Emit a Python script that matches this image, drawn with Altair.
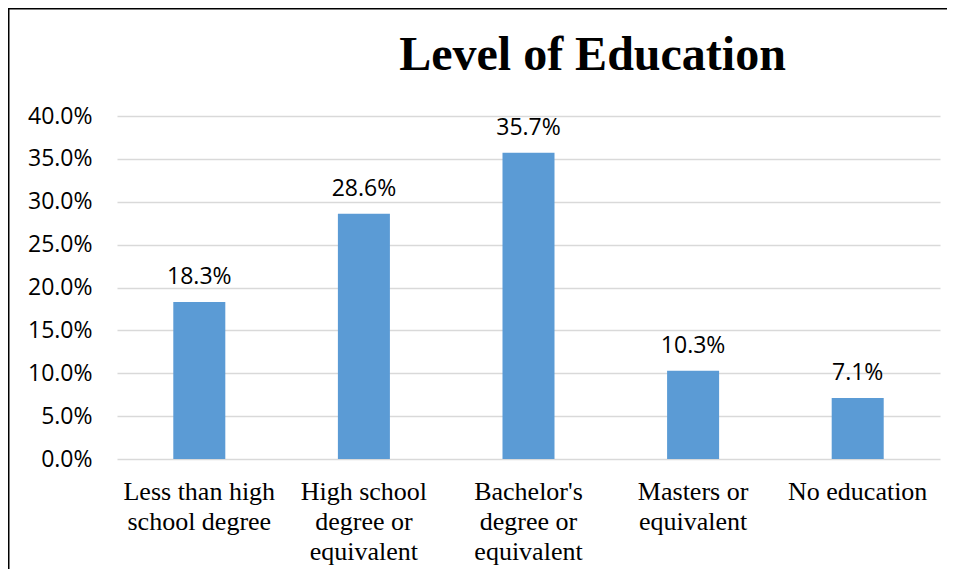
import altair as alt
import pandas as pd

title_text = "Level of Education"
categories = [
    "Less than high|school degree",
    "High school|degree or|equivalent",
    "Bachelor's|degree or|equivalent",
    "Masters or|equivalent",
    "No education",
]
shares = [0.183, 0.286, 0.357, 0.103, 0.071]
y_ticks = [0.0, 0.05, 0.10, 0.15, 0.20, 0.25, 0.30, 0.35, 0.40]

df = pd.DataFrame({"category": categories, "share": shares})

W, H = 823, 343
PAD = {"left": 109, "top": 108, "right": 7, "bottom": 110}

x_enc = alt.X(
    "category:N",
    sort=categories,
    title=None,
    scale=alt.Scale(paddingInner=0.684, paddingOuter=0.342),
    axis=alt.Axis(
        labelAngle=0,
        labelFont="Liberation Serif",
        labelFontSize=26,
        labelLineHeight=30,
        labelColor="black",
        labelPadding=19,
        labelExpr="split(datum.label, '|')",
        ticks=False,
        domain=False,
        labelBaseline="top",
    ),
)
y_enc = alt.Y(
    "share:Q",
    title=None,
    scale=alt.Scale(domain=[0, 0.4], nice=False),
    axis=alt.Axis(
        values=y_ticks,
        format=".1%",
        labelFont="Open Sans",
        labelFontSize=23,
        labelColor="black",
        labelPadding=25,
        ticks=False,
        domain=False,
        gridColor="#D9D9D9",
        gridWidth=1.5,
    ),
)

bars = alt.Chart(df).mark_bar(color="#5B9BD5").encode(x=x_enc, y=y_enc)
labels = alt.Chart(df).mark_text(
    dy=-18, baseline="alphabetic", font="Open Sans", fontSize=23, color="black"
).encode(
    x=alt.X("category:N", sort=categories),
    y="share:Q",
    text=alt.Text("share:Q", format=".1%"),
)

one = alt.Data(values=[{"t": title_text}])
border = alt.Chart(one).mark_rect(
    fill="transparent", stroke="black", strokeWidth=2
).encode(
    x=alt.value(-108.5), x2=alt.value(W + PAD["right"] + 40),
    y=alt.value(-107.5), y2=alt.value(H + PAD["bottom"] + 40),
)
title = alt.Chart(one).mark_text(
    font="Liberation Serif", fontSize=48, fontWeight="bold", color="black",
    baseline="alphabetic", align="center",
).encode(
    x=alt.value(W / 2 + 64), y=alt.value(-46), text="t:N"
)

chart = alt.layer(bars, labels, border, title).properties(
    width=W,
    height=H,
    padding=PAD,
    autosize=alt.AutoSizeParams(type="none"),
    background="white",
).configure_view(stroke="transparent", strokeWidth=0)

chart.save("out.html", embed_options={"renderer": "svg", "actions": False})
